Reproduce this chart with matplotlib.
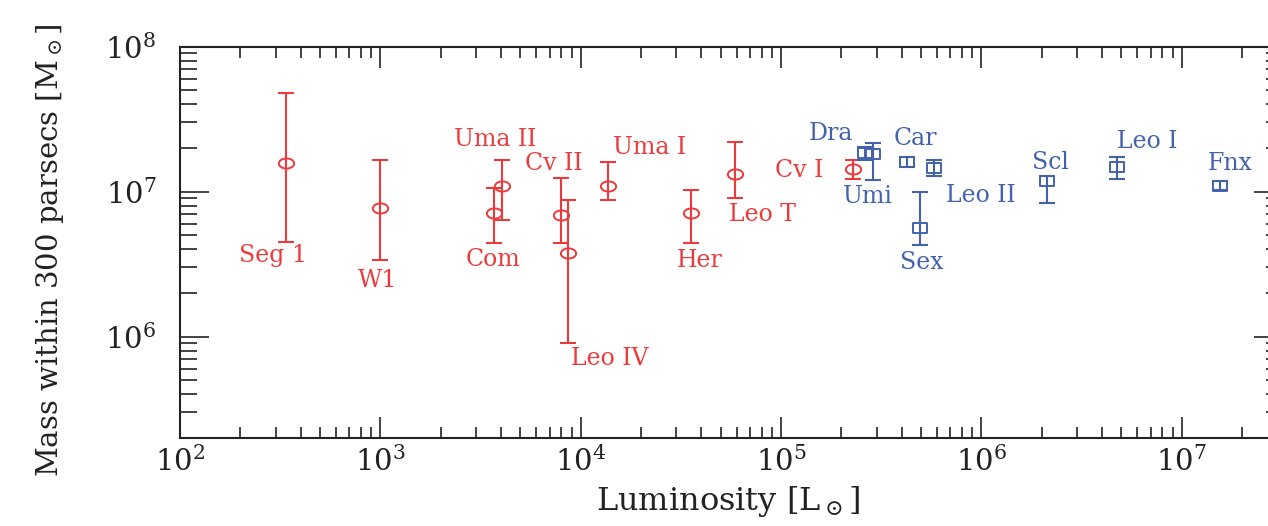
import numpy as np
import matplotlib
matplotlib.use("Agg")
import matplotlib.pyplot as plt
from matplotlib.path import Path
from matplotlib.transforms import Affine2D
from matplotlib.ticker import LogLocator, NullFormatter, LogFormatterSciNotation

plt.rcParams['font.family'] = ['DejaVu Serif']
plt.rcParams['mathtext.fontset'] = 'dejavuserif'

# ultra-faint satellites (red)
red_names = ['Seg 1', 'W1', 'Com', 'Uma II', 'Cv II', 'Leo IV', 'Uma I', 'Her', 'Leo T', 'Cv I']
red_lum = [338, 1000, 3690, 4030, 7950, 8670, 13700, 35700, 58700, 2.29e5]
red_mass = [1.57e7, 7.7e6, 7.1e6, 1.09e7, 6.9e6, 3.8e6, 1.1e7, 7.1e6, 1.32e7, 1.42e7]
red_lo = [4.5e6, 3.4e6, 4.4e6, 6.4e6, 4.4e6, 9.1e5, 8.8e6, 4.4e6, 9.0e6, 1.23e7]
red_hi = [4.8e7, 1.66e7, 1.05e7, 1.66e7, 1.24e7, 8.7e6, 1.61e7, 1.02e7, 2.19e7, 1.64e7]
red_label_x = [290, 968, 3650, 3750, 7350, 14000, 22000, 39100, 81100, 1.23e5]
red_label_y = [3.62e6, 2.43e6, 3.4e6, 2.29e7, 1.57e7, 7.05e5, 2.01e7, 3.34e6, 6.93e6, 1.4e7]

# classical dwarfs (blue)
blue_names = ['Dra', 'Umi', 'Car', 'Sex', 'Leo II', 'Scl', 'Leo I', 'Fnx']
blue_lum = [2.62e5, 2.88e5, 4.23e5, 4.93e5, 5.79e5, 2.13e6, 4.77e6, 1.55e7]
blue_mass = [1.84e7, 1.82e7, 1.59e7, 5.6e6, 1.46e7, 1.19e7, 1.47e7, 1.1e7]
blue_lo = [1.66e7, 1.2e7, 1.47e7, 4.25e6, 1.28e7, 8.3e6, 1.22e7, 1.02e7]
blue_hi = [2.02e7, 2.15e7, 1.72e7, 1.0e7, 1.66e7, 1.27e7, 1.72e7, 1.18e7]
blue_label_x = [1.78e5, 2.7e5, 4.66e5, 5.01e5, 9.93e5, 2.21e6, 6.76e6, 1.35e7]
blue_label_y = [2.52e7, 9.25e6, 2.32e7, 3.25e6, 9.38e6, 1.59e7, 2.22e7, 1.55e7]

RED = '#ec3a3c'
BLUE = '#4262ae'
INK = '#222222'

ellipse = Affine2D().scale(1.5, 1.0).transform_path(Path.unit_circle())
rect = Affine2D().translate(-0.5, -0.5).scale(1.3, 1.0).transform_path(Path.unit_rectangle())

W, H = 1268, 526
fig = plt.figure(figsize=(W / 100, H / 100), dpi=100)
ax = fig.add_axes([180 / W, 1 - 438 / H, (1283 - 180) / W, (438 - 46.5) / H])
ax.set_xscale('log')
ax.set_yscale('log')
ax.set_xlim(1e2, 3.2e7)
ax.set_ylim(2e5, 1e8)


def draw_group(lum, mass, lo, hi, color, marker, ms, cap):
    mass = np.array(mass)
    yerr = [mass - np.array(lo), np.array(hi) - mass]
    ax.errorbar(lum, mass, yerr=yerr, fmt='none', ecolor=color,
                elinewidth=1.5, capsize=cap, capthick=1.5)
    ax.plot(lum, mass, ls='none', marker=marker, ms=ms, mfc='none',
            mec=color, mew=1.4)


draw_group(red_lum, red_mass, red_lo, red_hi, RED, ellipse, 11, 5.8)
draw_group(blue_lum, blue_mass, blue_lo, blue_hi, BLUE, rect, 10, 5.5)

for name, x, y in zip(red_names, red_label_x, red_label_y):
    ax.text(x, y, name, color=RED, fontsize=17, ha='center', va='center')
for name, x, y in zip(blue_names, blue_label_x, blue_label_y):
    ha = 'left' if name == 'Fnx' else 'center'
    ax.text(x, y, name, color=BLUE, fontsize=17, ha=ha, va='center')

for axis in (ax.xaxis, ax.yaxis):
    axis.set_major_locator(LogLocator(base=10, numticks=20))
    axis.set_minor_locator(LogLocator(base=10, subs=np.arange(2, 10), numticks=50))
    axis.set_major_formatter(LogFormatterSciNotation())
    axis.set_minor_formatter(NullFormatter())

ax.tick_params(which='both', direction='in', top=True, right=True,
               colors=INK, width=1.2, labelsize=21)
ax.tick_params(axis='x', which='major', length=15, pad=6)
ax.tick_params(axis='x', which='minor', length=8)
ax.tick_params(axis='y', which='major', length=21, pad=17)
ax.tick_params(axis='y', which='minor', length=12)
for sp in ax.spines.values():
    sp.set_color(INK)
    sp.set_linewidth(1.5)

ax.set_xlabel(r'Luminosity [L$_\odot$]', fontsize=23, color=INK)
ax.set_ylabel(r'Mass within 300 parsecs [M$_\odot$]', fontsize=21, color=INK)
ax.xaxis.set_label_coords((728 - 180) / 1103, (438 - 484) / 391.5)
ax.yaxis.set_label_coords((66 - 180) / 1103, (438 - 250) / 391.5)

fig.savefig('out.png', dpi=100)
